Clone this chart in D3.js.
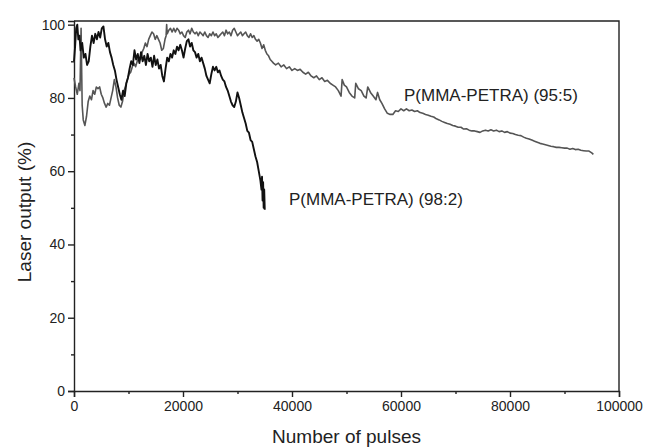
<!DOCTYPE html>
<html>
<head>
<meta charset="utf-8">
<script src="https://cdn.jsdelivr.net/npm/d3@7"></script>
<style>
  html, body { margin: 0; padding: 0; background: #fff; }
  svg { display: block; }
  .axis text { font-family: "Liberation Sans", Arial, sans-serif; font-size: 14px; fill: #222; }
  .axis path, .axis line { stroke: #222; stroke-width: 1.4; }
</style>
</head>
<body>
<svg id="chart" width="645" height="448"></svg>
<script>
// Laser output (%) vs. number of pump pulses for two P(MMA-PETRA) compositions
const series98 = [
  [0, 90], [200, 94], [400, 99], [600, 100], [800, 96], [1000, 97], [1200, 93], [1500, 95],
  [1800, 91], [2100, 92], [2400, 89], [2700, 90], [3000, 94], [3300, 97], [3600, 95],
  [3900, 97.5], [4200, 96], [4500, 98], [4800, 96.5], [5100, 99], [5400, 99.5], [5700, 96],
  [6000, 94], [6300, 95], [6600, 92.5], [6900, 91], [7200, 89], [7500, 87.5], [7800, 85],
  [8100, 83], [8400, 81], [8700, 79.5], [9000, 82], [9300, 80.5], [9600, 84], [9900, 85.5],
  [10200, 88], [10500, 90], [10800, 89], [11100, 93], [11400, 90.5], [11700, 92], [12000, 89.5],
  [12300, 92.5], [12600, 90], [12900, 91.5], [13200, 89], [13500, 92], [13800, 90], [14100, 91],
  [14400, 88.5], [14700, 91.5], [15000, 89], [15300, 90.5], [15600, 88], [15900, 89], [16200, 86],
  [16500, 84.5], [16800, 88], [17100, 91], [17400, 90], [17700, 92], [18000, 91], [18300, 93],
  [18600, 92], [18900, 94], [19200, 93], [19500, 94.5], [19800, 93], [20100, 91], [20400, 93.5],
  [20700, 95.5], [21000, 96], [21300, 94], [21600, 95], [21900, 93], [22200, 92.5], [22500, 91],
  [22800, 92], [23100, 90], [23400, 91], [23700, 89.5], [24000, 88], [24300, 86], [24600, 85],
  [24900, 84], [25200, 86.5], [25500, 88.5], [25800, 87.5], [26100, 88.5], [26400, 87],
  [26700, 87.5], [27000, 86], [27300, 85], [27600, 84.5], [27900, 83], [28200, 82], [28500, 80.5],
  [28800, 79], [29100, 78], [29400, 77.5], [29700, 79], [30000, 81.5], [30300, 80], [30600, 78],
  [30900, 76], [31200, 74.5], [31500, 73], [31800, 71], [32100, 70.5], [32400, 68.5], [32700, 68],
  [33000, 66], [33300, 64], [33600, 62.5], [33900, 60], [34200, 57.5], [34400, 55], [34500, 58.5],
  [34600, 52], [34700, 57], [34800, 50], [34900, 55], [35000, 49.5]
];

const series95 = [
  [0, 85.5], [300, 83], [600, 81], [900, 84], [1100, 82], [1300, 99], [1500, 78], [1700, 74],
  [2000, 72.5], [2300, 75], [2600, 79], [2900, 80.5], [3200, 79.5], [3500, 82], [3800, 81],
  [4100, 83], [4400, 82.5], [4700, 83], [5000, 81], [5300, 80], [5600, 78.5], [5900, 77.5],
  [6200, 78.5], [6500, 78], [6800, 80], [7100, 82], [7400, 85], [7700, 83], [8000, 80],
  [8300, 78], [8600, 77.5], [8900, 79], [9200, 82], [9500, 83.5], [9800, 85], [10100, 86.5],
  [10400, 87], [10700, 88.5], [11000, 89.5], [11300, 88.5], [11600, 90], [11900, 91],
  [12200, 90.5], [12500, 92.5], [12800, 93.5], [13100, 95], [13400, 94], [13700, 96], [14000, 97],
  [14300, 98], [14600, 97.5], [14900, 96], [15200, 97], [15500, 96], [15800, 95], [16100, 93],
  [16400, 93.5], [16700, 96], [16900, 97], [17000, 100], [17100, 97.5], [17400, 98.5],
  [17700, 99], [18000, 98], [18300, 99], [18600, 98], [18900, 99], [19200, 98.5], [19500, 97.5],
  [19800, 98], [20100, 97], [20400, 96.5], [20700, 98], [21000, 98.5], [21300, 97.5], [21600, 99],
  [21900, 98], [22200, 97.5], [22500, 98], [22800, 97], [23100, 98], [23400, 97.5], [23700, 97],
  [24000, 98], [24300, 97], [24600, 96.5], [24900, 97.5], [25200, 97], [25500, 98], [25800, 97],
  [26100, 97.5], [26400, 96.5], [26700, 97], [27000, 97.5], [27300, 98], [27600, 97], [27900, 98.5],
  [28200, 97.5], [28500, 98], [28800, 97], [29100, 98.5], [29400, 99], [29700, 98], [30000, 97],
  [30300, 97.5], [30600, 98], [30900, 97], [31200, 97.5], [31500, 98], [31800, 97], [32100, 96.5],
  [32400, 97.5], [32700, 96.5], [33000, 97], [33300, 96], [33600, 95.5], [33900, 96], [34200, 95],
  [34500, 93.5], [34800, 94.5], [35100, 93], [35400, 92], [35700, 91.5], [36000, 90.5],
  [36300, 90], [36600, 89.5], [37000, 89], [37500, 89.5], [38000, 88.5], [38500, 89], [39000, 88],
  [39500, 88.5], [40000, 87.5], [40500, 88], [41000, 87.5], [41500, 87.8], [42000, 87],
  [42500, 86.5], [43000, 87], [43500, 86], [44000, 85.5], [44500, 86], [45000, 85], [45500, 85.5],
  [46000, 84.5], [46500, 84.8], [47000, 84], [47500, 83.5], [48000, 83], [48500, 82], [49000, 80.5],
  [49200, 85], [49600, 83.5], [50000, 83], [50500, 81.5], [51000, 80.5], [51500, 80], [51700, 84],
  [52200, 82.5], [52700, 82], [53200, 80.5], [53600, 80], [53900, 83], [54400, 81.5], [54900, 80.5],
  [55400, 79.5], [55700, 81.5], [56100, 79.5], [56500, 78.5], [57000, 77], [57500, 75.8],
  [58000, 75.5], [58500, 75.5], [59000, 76.5], [59500, 76.3], [60000, 77], [60500, 76.5],
  [61000, 77], [61500, 76.5], [62000, 76.7], [62500, 76.3], [63000, 76.5], [63500, 76],
  [64000, 75.8], [64500, 75.5], [65000, 75.3], [65500, 75], [66000, 74.8], [66500, 74.3],
  [67000, 74], [67500, 73.6], [68000, 73.3], [68500, 73], [69000, 72.8], [69500, 72.5],
  [70000, 72.3], [70500, 72], [71000, 72], [71500, 71.5], [72000, 71.6], [72500, 71.2], [73000, 71],
  [73500, 71], [74000, 70.8], [74500, 70.6], [75000, 71], [75500, 71.2], [76000, 71], [76500, 71.3],
  [77000, 71], [77500, 71.2], [78000, 70.8], [78500, 71], [79000, 70.6], [79500, 70.8],
  [80000, 70.4], [80500, 70.3], [81000, 70], [81500, 69.8], [82000, 69.7], [82500, 69.3],
  [83000, 69], [83500, 68.8], [84000, 68.5], [84500, 68.2], [85000, 67.9], [85500, 67.6],
  [86000, 67.4], [86500, 67.2], [87000, 67], [87500, 66.8], [88000, 66.7], [88500, 66.5],
  [89000, 66.5], [89500, 66.4], [90000, 66.3], [90500, 66.3], [91000, 66], [91500, 66.2],
  [92000, 65.9], [92500, 66], [93000, 65.7], [93500, 65.6], [94000, 65.5], [94500, 65.5],
  [95000, 65], [95300, 64.6]
];

const xMajorTicks = [0, 20000, 40000, 60000, 80000, 100000];
const xMinorTicks = [10000, 30000, 50000, 70000, 90000];
const yMajorTicks = [0, 20, 40, 60, 80, 100];
const yMinorTicks = [10, 30, 50, 70, 90];

const seriesLabels = ["P(MMA-PETRA) (95:5)", "P(MMA-PETRA) (98:2)"];
const axisTitles = { x: "Number of pulses", y: "Laser output (%)" };

const margin = { left: 74, right: 26, top: 21, bottom: 57 };
const W = 645, H = 448;
const svg = d3.select("#chart");

const x = d3.scaleLinear().domain([0, 100000]).range([margin.left, W - margin.right]);
const y = d3.scaleLinear().domain([0, 101]).range([H - margin.bottom, margin.top]);

// frame (top and right edges)
svg.append("path")
  .attr("d", `M${x(0)},${y(101)}H${x(100000)}V${y(0)}`)
  .attr("fill", "none").attr("stroke", "#222").attr("stroke-width", 1.4);

// x axis
svg.append("g").attr("class", "axis")
  .attr("transform", `translate(0,${y(0)})`)
  .call(d3.axisBottom(x).tickValues(xMajorTicks).tickSize(6).tickPadding(4).tickFormat(d3.format("d")));
svg.append("g").attr("class", "axis")
  .attr("transform", `translate(0,${y(0)})`)
  .call(d3.axisBottom(x).tickValues(xMinorTicks).tickSize(3).tickFormat(""))
  .select(".domain").remove();

// y axis
svg.append("g").attr("class", "axis")
  .attr("transform", `translate(${x(0)},0)`)
  .call(d3.axisLeft(y).tickValues(yMajorTicks).tickSize(6).tickPadding(3));
svg.append("g").attr("class", "axis")
  .attr("transform", `translate(${x(0)},0)`)
  .call(d3.axisLeft(y).tickValues(yMinorTicks).tickSize(3).tickFormat(""))
  .select(".domain").remove();

// data lines
const line = d3.line().x(d => x(d[0])).y(d => y(d[1]));

svg.append("path").datum(series95)
  .attr("d", line).attr("fill", "none")
  .attr("stroke", "#555").attr("stroke-width", 1.6).attr("stroke-linejoin", "round");

svg.append("path").datum(series98)
  .attr("d", line).attr("fill", "none")
  .attr("stroke", "#111").attr("stroke-width", 1.9).attr("stroke-linejoin", "round");

// series labels
const labelFont = "'Liberation Sans', Arial, sans-serif";
svg.append("text").attr("x", 404).attr("y", 101)
  .attr("font-family", labelFont).attr("font-size", 17).attr("fill", "#222")
  .text(seriesLabels[0]);
svg.append("text").attr("x", 289).attr("y", 205)
  .attr("font-family", labelFont).attr("font-size", 17).attr("fill", "#222")
  .text(seriesLabels[1]);

// axis titles
svg.append("text")
  .attr("x", (x(0) + x(100000)) / 2).attr("y", 443)
  .attr("text-anchor", "middle")
  .attr("font-family", labelFont).attr("font-size", 19).attr("fill", "#222")
  .text(axisTitles.x);
svg.append("text")
  .attr("transform", `translate(31,${(y(0) + y(101)) / 2 + 6}) rotate(-90)`)
  .attr("text-anchor", "middle")
  .attr("font-family", labelFont).attr("font-size", 19).attr("fill", "#222")
  .text(axisTitles.y);
</script>
</body>
</html>
